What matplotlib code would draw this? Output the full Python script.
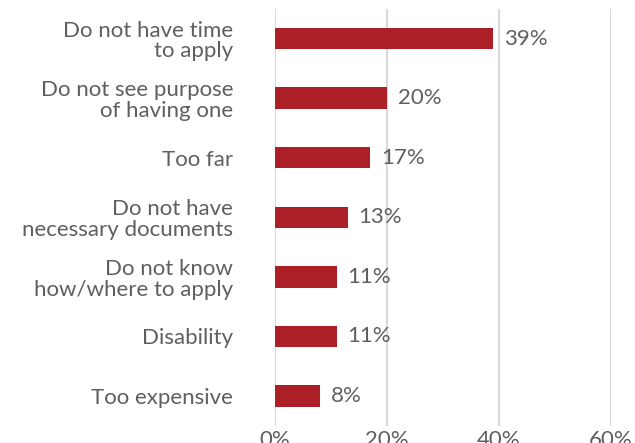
import matplotlib.pyplot as plt
import numpy as np

plt.rcParams['font.family'] = ['Lato', 'DejaVu Sans']

# Datos
motivos = ['Do not have time\nto apply', 'Do not see purpose\nof having one', 'Too far',
           'Do not have\nnecessary documents', 'Do not know\nhow/where to apply',
           'Disability', 'Too expensive']
valores = [39, 20, 17, 13, 11, 11, 8]
ticks_x = [0, 20, 40, 60]

gris = '#5f5f5f'
rojo = '#AC1F26'

fig = plt.figure(figsize=(6.35, 4.43), dpi=100)
ax = fig.add_axes([0.433, 0.039, 0.529, 0.941])

y = np.arange(len(motivos))
ax.barh(y, valores, height=0.36, color=rojo, zorder=3)
for yi, v in zip(y, valores):
    ax.text(v + 1.9, yi, f'{v}%', va='center', ha='left', fontsize=16, color=gris)

ax.set_xlim(0, 60)
ax.set_ylim(len(motivos) - 0.5, -0.5)
ax.set_yticks(y)
ax.set_yticklabels(motivos, fontsize=16, color=gris, linespacing=1.05, multialignment='right')
ax.set_xticks(ticks_x)
ax.set_xticklabels([f'{t}%' for t in ticks_x], fontsize=16, color=gris)
ax.tick_params(length=0)
ax.tick_params(axis='y', pad=30)
ax.tick_params(axis='x', pad=3)
ax.grid(axis='x', color='#d9d9d9', linewidth=1.5, zorder=0)
for s in ax.spines.values():
    s.set_visible(False)

plt.savefig('out.png', dpi=100)
